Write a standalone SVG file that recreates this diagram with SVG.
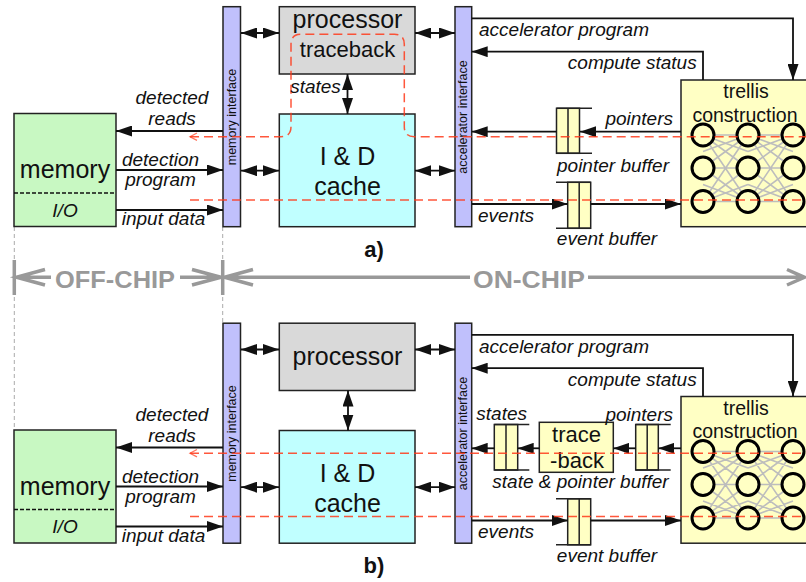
<svg xmlns="http://www.w3.org/2000/svg" width="806" height="582" viewBox="0 0 806 582">
<defs>
<style>
text{font-family:"Liberation Sans",Arial,Helvetica,sans-serif;fill:#111}
.box{stroke:#222;stroke-width:1.5}
.mem{fill:#c8f8c2}
.ifc{fill:#c0c0fc}
.proc{fill:#d9d9d9}
.cache{fill:#c0ffff}
.yel{fill:#ffffc4}
.lbl{font-size:19px;font-style:italic}
.big{font-size:25px}
.mid{font-size:22px}
.vt{font-size:12.5px}
.conn{stroke:#111;stroke-width:1.8;fill:none}
.red{stroke:#ff3a1a;stroke-width:1.5;stroke-dasharray:9 5;fill:none;opacity:0.85}
.mesh{stroke:#bdbdbd;stroke-width:1.6;fill:none}
.node{fill:#ffffc4;stroke:#000;stroke-width:3}
.bar{stroke:#999;stroke-width:3.5;fill:none}
.bartxt{font-size:24px;font-weight:bold;fill:#999}
.vdash{stroke:#aaa;stroke-width:1;stroke-dasharray:4 3;fill:none}
.sep{stroke:#111;stroke-width:1.5;stroke-dasharray:4 2}
.bufl{stroke:#222;stroke-width:1.5;fill:none}
</style>
<marker id="ah" viewBox="0 0 16 11" refX="16" refY="5.5" markerWidth="16" markerHeight="11" markerUnits="userSpaceOnUse" orient="auto-start-reverse">
<path d="M0,0 L16,5.5 L0,11 z" fill="#111"/>
</marker>
<g id="trellisMesh">
<path class="mesh" d="M703,135 L748,135 M703,135 L748,168 M703,135 L748,201.5 M703,168 L748,135 M703,168 L748,168 M703,168 L748,201.5 M703,201.5 L748,135 M703,201.5 L748,168 M703,201.5 L748,201.5 M748,135 L793,135 M748,135 L793,168 M748,135 L793,201.5 M748,168 L793,135 M748,168 L793,168 M748,168 L793,201.5 M748,201.5 L793,135 M748,201.5 L793,168 M748,201.5 L793,201.5 M703,135 L748,151.5 M703,151.5 L748,135 M703,184.5 L748,201.5 M703,201.5 L748,184.5 M748,135 L793,151.5 M748,151.5 L793,135 M748,184.5 L793,201.5 M748,201.5 L793,184.5"/>
<circle class="node" cx="703" cy="135" r="11"/>
<circle class="node" cx="748" cy="135" r="11"/>
<circle class="node" cx="793" cy="135" r="11"/>
<circle class="node" cx="703" cy="168" r="11"/>
<circle class="node" cx="748" cy="168" r="11"/>
<circle class="node" cx="793" cy="168" r="11"/>
<circle class="node" cx="703" cy="201.5" r="11"/>
<circle class="node" cx="748" cy="201.5" r="11"/>
<circle class="node" cx="793" cy="201.5" r="11"/>
</g>
</defs>
<rect width="806" height="582" fill="#fff"/>

<!-- boundary guides -->
<g id="chip-boundary">
<path class="vdash" d="M14.3,227 V430 M222.7,227 V323"/>
<path class="bar" d="M14.3,260 V295 M222.7,260 V295"/>
<path class="bar" d="M45,269.5 L16.5,277.3 L45,285 M16.5,277.3 H51"/>
<path class="bar" d="M180,277.3 H221 M192,269.5 L221,277.3 L192,285"/>
<path class="bar" d="M253,269.5 L224.5,277.3 L253,285 M224.5,277.3 H470"/>
<path class="bar" d="M588,277.3 H804 M787,269.5 L804.5,277.3 L787,285"/>
<text class="bartxt" x="55" y="288.3" textLength="120" lengthAdjust="spacingAndGlyphs">OFF-CHIP</text>
<text class="bartxt" x="473" y="288.3" textLength="112" lengthAdjust="spacingAndGlyphs">ON-CHIP</text>
</g>

<!-- ===== panel a ===== -->
<g id="memory-a">
<rect class="box mem" x="14" y="113.5" width="102" height="113"/>
<line class="sep" x1="14" y1="193" x2="116" y2="193"/>
<text class="big" x="65" y="178" text-anchor="middle">memory</text>
<text class="lbl" x="65" y="216.5" text-anchor="middle">I/O</text>
</g>
<g id="memif-a">
<rect class="box ifc" x="223" y="6.7" width="17.5" height="220"/>
<text class="vt" transform="translate(232,117) rotate(-90)" text-anchor="middle" dominant-baseline="central">memory interface</text>
</g>
<g id="processor-a">
<rect class="box proc" x="279.3" y="6.7" width="135.7" height="67.3"/>
<text class="big" x="347.5" y="28" text-anchor="middle">processor</text>
<text class="mid" x="347.5" y="57" text-anchor="middle">traceback</text>
</g>
<g id="cache-a">
<rect class="box cache" x="279.3" y="114" width="135.7" height="112.7"/>
<text class="big" x="347.5" y="165" text-anchor="middle">I &amp; D</text>
<text class="big" x="347.5" y="195" text-anchor="middle">cache</text>
</g>
<g id="accif-a">
<rect class="box ifc" x="455" y="6.7" width="16.7" height="220"/>
<text class="vt" transform="translate(463.3,117) rotate(-90)" text-anchor="middle" dominant-baseline="central">accelerator interface</text>
</g>
<g id="ptrbuf-a">
<rect class="box yel" x="556.5" y="108.3" width="23" height="45"/>
<path class="bufl" d="M568,108.3 V153.3 M556.5,108.3 H592 M556.5,153.3 H592"/>
</g>
<g id="evtbuf-a">
<rect class="box yel" x="567.7" y="182.3" width="23" height="46"/>
<path class="bufl" d="M579.2,182.3 V228.3 M556,182.3 H590.7 M556,228.3 H590.7"/>
</g>
<g id="trellis-a">
<rect class="box yel" x="681" y="80" width="160" height="146.7"/>
<text style="font-size:19.5px" x="746" y="98.3" text-anchor="middle">trellis</text>
<text style="font-size:19.5px" x="745" y="121.5" text-anchor="middle">construction</text>
<use href="#trellisMesh"/>
</g>

<g id="connectors-a">
<path class="conn" marker-end="url(#ah)" d="M223,131 H116"/>
<path class="conn" marker-end="url(#ah)" d="M116,170 H223"/>
<path class="conn" marker-end="url(#ah)" d="M116,210 H223"/>
<path class="conn" marker-start="url(#ah)" marker-end="url(#ah)" d="M241,33 H279"/>
<path class="conn" marker-start="url(#ah)" marker-end="url(#ah)" d="M241,170.7 H279"/>
<path class="conn" marker-start="url(#ah)" marker-end="url(#ah)" d="M415,33 H455"/>
<path class="conn" marker-start="url(#ah)" marker-end="url(#ah)" d="M415,170.7 H455"/>
<path class="conn" marker-start="url(#ah)" marker-end="url(#ah)" d="M347.5,74 V114"/>
<path class="conn" marker-end="url(#ah)" d="M471.7,18.3 H793 V80"/>
<path class="conn" marker-end="url(#ah)" d="M703,80 V51.7 H471.7"/>
<path class="conn" marker-end="url(#ah)" d="M681,131.7 H580"/>
<path class="conn" marker-end="url(#ah)" d="M556.5,131.7 H471.7"/>
<path class="conn" marker-end="url(#ah)" d="M471.7,204 H567.7"/>
<path class="conn" marker-end="url(#ah)" d="M590.7,204 H681"/>
<path class="red" d="M190,136.7 H281 Q291,136.7 291,126.7 V44.3 Q291,34.3 301,34.3 H394.3 Q404.3,34.3 404.3,44.3 V126.7 Q404.3,136.7 414.3,136.7 H806"/>
<path class="red" d="M190,200 H806"/>
<path d="M197,133 L190,136.7 L197,140.4" stroke="#ff3a1a" stroke-width="1.3" fill="none" opacity="0.7"/>
</g>

<g id="labels-a">
<text class="lbl" x="172" y="104" text-anchor="middle">detected</text>
<text class="lbl" x="172" y="125" text-anchor="middle">reads</text>
<text class="lbl" x="160.5" y="166" text-anchor="middle">detection</text>
<text class="lbl" x="160.5" y="186" text-anchor="middle">program</text>
<text class="lbl" x="163.5" y="225" text-anchor="middle">input data</text>
<text class="lbl" x="315.5" y="92.7" text-anchor="middle">states</text>
<text class="lbl" x="479" y="36">accelerator program</text>
<text class="lbl" x="696.7" y="69" text-anchor="end">compute status</text>
<text class="lbl" x="673" y="125" text-anchor="end">pointers</text>
<text class="lbl" x="613" y="172" text-anchor="middle">pointer buffer</text>
<text class="lbl" x="478" y="222">events</text>
<text class="lbl" x="607" y="245" text-anchor="middle">event buffer</text>
<text x="374" y="257" text-anchor="middle" style="font-size:22px;font-weight:bold">a)</text>
</g>

<!-- ===== panel b ===== -->
<g id="memory-b" transform="translate(0,316.5)">
<rect class="box mem" x="14" y="113.5" width="102" height="113"/>
<line class="sep" x1="14" y1="193" x2="116" y2="193"/>
<text class="big" x="65" y="178" text-anchor="middle">memory</text>
<text class="lbl" x="65" y="216.5" text-anchor="middle">I/O</text>
</g>
<g id="memif-b" transform="translate(0,316.5)">
<rect class="box ifc" x="223" y="6.7" width="17.5" height="220"/>
<text class="vt" transform="translate(232,117) rotate(-90)" text-anchor="middle" dominant-baseline="central">memory interface</text>
</g>
<g id="processor-b">
<rect class="box proc" x="279.3" y="323.2" width="135.7" height="67.3"/>
<text class="big" x="347.5" y="365" text-anchor="middle">processor</text>
</g>
<g id="cache-b" transform="translate(0,316.5)">
<rect class="box cache" x="279.3" y="114" width="135.7" height="112.7"/>
<text class="big" x="347.5" y="165" text-anchor="middle">I &amp; D</text>
<text class="big" x="347.5" y="195" text-anchor="middle">cache</text>
</g>
<g id="accif-b" transform="translate(0,316.5)">
<rect class="box ifc" x="455" y="6.7" width="16.7" height="220"/>
<text class="vt" transform="translate(463.3,117) rotate(-90)" text-anchor="middle" dominant-baseline="central">accelerator interface</text>
</g>
<g id="statebuf-b">
<rect class="box yel" x="494.3" y="424.5" width="23.4" height="45.5"/>
<path class="bufl" d="M506,424.5 V470 M494.3,424.5 H529.3 M494.3,470 H529.3"/>
</g>
<g id="traceback-b">
<rect class="box yel" x="539.3" y="422.3" width="74" height="50"/>
<text class="mid" x="576.5" y="442" text-anchor="middle">trace</text>
<text class="mid" x="577" y="467.5" text-anchor="middle">-back</text>
</g>
<g id="ptrbuf-b">
<rect class="box yel" x="635.7" y="424.5" width="22.6" height="45.5"/>
<path class="bufl" d="M647.2,424.5 V470 M635.7,424.5 H670.7 M635.7,470 H670.7"/>
</g>
<g id="evtbuf-b" transform="translate(0,316.5)">
<rect class="box yel" x="567.7" y="182.3" width="23" height="46"/>
<path class="bufl" d="M579.2,182.3 V228.3 M556,182.3 H590.7 M556,228.3 H590.7"/>
</g>
<g id="trellis-b" transform="translate(0,316.5)">
<rect class="box yel" x="681" y="80" width="160" height="146.7"/>
<text style="font-size:19.5px" x="746" y="98.3" text-anchor="middle">trellis</text>
<text style="font-size:19.5px" x="745" y="121.5" text-anchor="middle">construction</text>
<use href="#trellisMesh"/>
</g>

<g id="connectors-b">
<g transform="translate(0,316.5)">
<path class="conn" marker-end="url(#ah)" d="M223,131 H116"/>
<path class="conn" marker-end="url(#ah)" d="M116,170 H223"/>
<path class="conn" marker-end="url(#ah)" d="M116,210 H223"/>
<path class="conn" marker-start="url(#ah)" marker-end="url(#ah)" d="M241,33 H279"/>
<path class="conn" marker-start="url(#ah)" marker-end="url(#ah)" d="M241,170.7 H279"/>
<path class="conn" marker-start="url(#ah)" marker-end="url(#ah)" d="M415,33 H455"/>
<path class="conn" marker-start="url(#ah)" marker-end="url(#ah)" d="M415,170.7 H455"/>
<path class="conn" marker-start="url(#ah)" marker-end="url(#ah)" d="M348,74 V114"/>
<path class="conn" marker-end="url(#ah)" d="M471.7,18.3 H793 V80"/>
<path class="conn" marker-end="url(#ah)" d="M703,80 V51.7 H471.7"/>
<path class="conn" marker-end="url(#ah)" d="M471.7,204 H567.7"/>
<path class="conn" marker-end="url(#ah)" d="M590.7,204 H681"/>
</g>
<path class="conn" marker-end="url(#ah)" d="M681,448.3 H658.3"/>
<path class="conn" marker-end="url(#ah)" d="M635.7,448.3 H613.3"/>
<path class="conn" marker-end="url(#ah)" d="M539.3,448.3 H517.7"/>
<path class="conn" marker-end="url(#ah)" d="M494.3,448.3 H471.7"/>
<path class="red" d="M190,453.2 H806"/>
<path class="red" d="M190,516.5 H806"/>
<path d="M197,449.5 L190,453.2 L197,456.9" stroke="#ff3a1a" stroke-width="1.3" fill="none" opacity="0.7"/>
</g>

<g id="labels-b">
<g transform="translate(0,316.5)">
<text class="lbl" x="172" y="104" text-anchor="middle">detected</text>
<text class="lbl" x="172" y="125" text-anchor="middle">reads</text>
<text class="lbl" x="160.5" y="166" text-anchor="middle">detection</text>
<text class="lbl" x="160.5" y="186" text-anchor="middle">program</text>
<text class="lbl" x="163.5" y="225" text-anchor="middle">input data</text>
<text class="lbl" x="479" y="36">accelerator program</text>
<text class="lbl" x="696.7" y="69" text-anchor="end">compute status</text>
<text class="lbl" x="478" y="221">events</text>
<text class="lbl" x="607" y="245" text-anchor="middle">event buffer</text>
</g>
<text class="lbl" x="501.7" y="420" text-anchor="middle">states</text>
<text class="lbl" x="673" y="420.5" text-anchor="end">pointers</text>
<text class="lbl" x="580.5" y="487.5" text-anchor="middle">state &amp; pointer buffer</text>
<text x="374" y="573" text-anchor="middle" style="font-size:22px;font-weight:bold">b)</text>
</g>
</svg>
